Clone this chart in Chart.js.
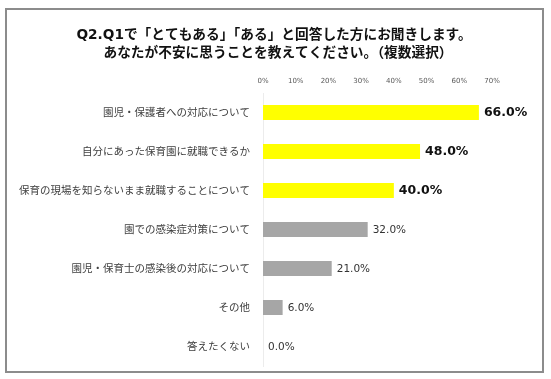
<!DOCTYPE html>
<html><head><meta charset="utf-8">
<script src="https://cdn.jsdelivr.net/npm/chart.js@4"></script>
<style>
html,body{margin:0;padding:0;background:#fff;}
#wrap{position:relative;width:551px;height:379px;}
#frame{position:absolute;left:5px;top:8px;width:535px;height:361px;border:2px solid #8c8c8c;pointer-events:none;}
canvas{position:absolute;left:0;top:0;}
</style></head><body>
<div id="wrap"><canvas id="c" width="551" height="379"></canvas><div id="frame"></div></div>
<script>
const titleLines = ["Q2.Q1で「とてもある」「ある」と回答した方にお聞きします。", "あなたが不安に思うことを教えてください。（複数選択）"];
const categories = ["園児・保護者への対応について", "自分にあった保育園に就職できるか", "保育の現場を知らないまま就職することについて", "園での感染症対策について", "園児・保育士の感染後の対応について", "その他", "答えたくない"];
const values = [66.0, 48.0, 40.0, 32.0, 21.0, 6.0, 0.0];
const highlighted = [true, true, true, false, false, false, false];
const tickValues = [0, 10, 20, 30, 40, 50, 60, 70];

const YELLOW = "#FFFF00", GREY = "#A6A6A6";
const LATIN = "'DejaVu Sans', 'Noto Sans CJK JP', sans-serif";
const CJK = "'Noto Sans CJK JP', sans-serif";

const titlePlugin = {
  id: "twoLineTitle",
  afterDraw(chart) {
    const ctx = chart.ctx;
    ctx.save();
    ctx.font = "bold 13.7px " + LATIN;
    ctx.fillStyle = "#111";
    ctx.textAlign = "center";
    ctx.textBaseline = "middle";
    ctx.fillText(titleLines[0], 274, 35);
    ctx.fillText(titleLines[1], 278, 53);
    ctx.restore();
  }
};

const valueLabels = {
  id: "valueLabels",
  afterDatasetsDraw(chart) {
    const ctx = chart.ctx;
    const meta = chart.getDatasetMeta(0);
    ctx.save();
    ctx.textBaseline = "middle";
    ctx.textAlign = "left";
    meta.data.forEach((bar, i) => {
      const hl = highlighted[i];
      ctx.font = hl ? "bold 12.5px " + LATIN : "10.5px " + LATIN;
      ctx.fillStyle = hl ? "#111" : "#333";
      ctx.fillText(values[i].toFixed(1) + "%", bar.x + 5, bar.y + 0.5);
    });
    ctx.restore();
  }
};

new Chart(document.getElementById("c"), {
  type: "bar",
  data: {
    labels: categories,
    datasets: [{
      data: values,
      backgroundColor: highlighted.map(h => h ? YELLOW : GREY),
      borderWidth: 0,
      barPercentage: 0.77,
      categoryPercentage: 0.5
    }]
  },
  options: {
    indexAxis: "y",
    responsive: false,
    animation: false,
    layout: { padding: { left: 10, right: 59, top: 61, bottom: 13 } },
    plugins: {
      legend: { display: false },
      tooltip: { enabled: false },
      title: { display: false }
    },
    scales: {
      x: {
        position: "top",
        min: 0, max: 70,
        afterBuildTicks(scale) { scale.ticks = tickValues.map(v => ({ value: v })); },
        afterFit(scale) { scale.height = 32; scale.paddingLeft = 0; scale.paddingRight = 0; },
        grid: { display: false, drawTicks: false },
        border: { display: false },
        ticks: {
          padding: 8,
          color: "#595959",
          font: { family: LATIN, size: 7 },
          callback: v => v + "%"
        }
      },
      y: {
        afterFit(scale) { scale.width = 263 - 10; scale.paddingTop = 0; scale.paddingBottom = 0; },
        grid: { display: false, drawTicks: false },
        border: { display: true, color: "#ececec", width: 1 },
        ticks: {
          padding: 13,
          color: "#404040",
          font: { family: CJK, size: 10.5 }
        }
      }
    }
  },
  plugins: [valueLabels, titlePlugin]
});
</script>
</body></html>
